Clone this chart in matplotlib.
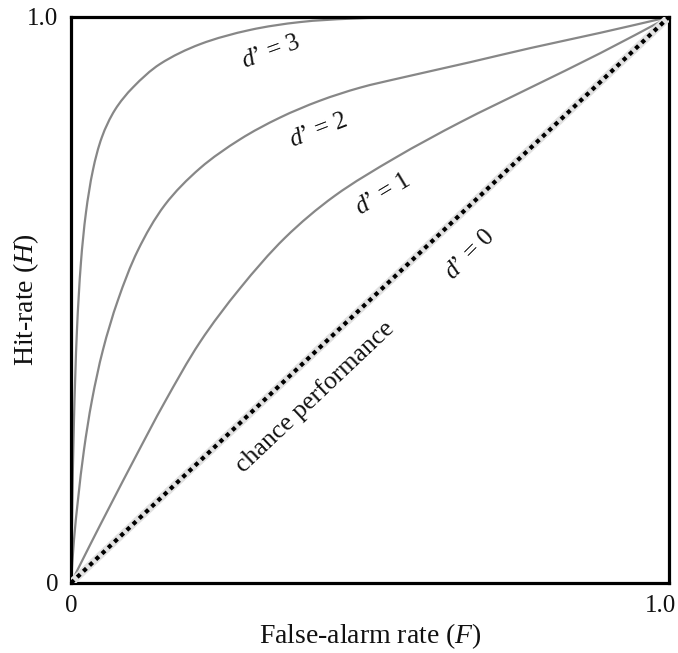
import numpy as np
import matplotlib
matplotlib.use("Agg")
import matplotlib.pyplot as plt
from matplotlib.path import Path
from matplotlib.patches import PathPatch
from matplotlib.transforms import ScaledTranslation

plt.rcParams["font.family"] = ["Liberation Serif", "DejaVu Serif"]
plt.rcParams["mathtext.fontset"] = "custom"
plt.rcParams["mathtext.rm"] = "Liberation Serif"
plt.rcParams["mathtext.it"] = "Liberation Serif:italic"

# ROC curves: false-alarm rate (F) vs hit rate (H)
f_d3 = [0.0, 0.0017, 0.005, 0.010, 0.0167, 0.0251, 0.0368, 0.0518, 0.0736,
        0.104, 0.149, 0.216, 0.299, 0.383, 0.467, 0.584, 1.0]
h_d3 = [0.0, 0.111, 0.288, 0.447, 0.567, 0.655, 0.730, 0.788, 0.836,
        0.876, 0.917, 0.952, 0.977, 0.991, 0.997, 1.0, 1.0]

f_d2 = [0.0, 0.005, 0.0117, 0.0217, 0.0351, 0.0535, 0.0786, 0.112, 0.157,
        0.216, 0.283, 0.349, 0.416, 0.483, 0.550, 0.667, 0.768, 0.885, 1.0]
h_d2 = [0.0, 0.076, 0.147, 0.235, 0.323, 0.412, 0.500, 0.588, 0.668,
        0.733, 0.784, 0.822, 0.852, 0.875, 0.892, 0.920, 0.945, 0.972, 1.0]

f_d1 = [0.0, 0.0318, 0.0652, 0.107, 0.157, 0.216, 0.283, 0.358, 0.441,
        0.542, 0.651, 0.768, 0.885, 1.0]
h_d1 = [0.0, 0.0671, 0.136, 0.221, 0.320, 0.426, 0.521, 0.610, 0.684,
        0.751, 0.814, 0.875, 0.936, 1.0]

curve_labels = ["$d$’ = 1", "$d$’ = 2", "$d$’ = 3", "$d$’ = 0"]
chance_label = "chance performance"
tick_values = [0, 1.0]
tick_labels = ["0", "1.0"]


def smooth_path(xs, ys):
    """Cubic Bezier path through the points, chord-length tangents."""
    p = np.column_stack([xs, ys]).astype(float)
    n = len(p)
    d = np.hypot(*np.diff(p, axis=0).T)
    m = np.zeros_like(p)
    m[0] = (p[1] - p[0]) / d[0]
    m[-1] = (p[-1] - p[-2]) / d[-1]
    for i in range(1, n - 1):
        m[i] = (p[i + 1] - p[i - 1]) / (d[i - 1] + d[i])
    verts = [p[0]]
    codes = [Path.MOVETO]
    for i in range(n - 1):
        c1 = p[i] + m[i] * d[i] / 3.0
        c2 = p[i + 1] - m[i + 1] * d[i] / 3.0
        verts += [c1, c2, p[i + 1]]
        codes += [Path.CURVE4] * 3
    return Path(verts, codes)


fig = plt.figure(figsize=(6.78, 6.53), dpi=100)
ax = fig.add_axes([0.1047, 0.1072, 0.8820, 0.8668])

for xs, ys in [(f_d1, h_d1), (f_d2, h_d2), (f_d3, h_d3)]:
    ax.add_patch(PathPatch(smooth_path(xs, ys), facecolor="none",
                           edgecolor="#878787", lw=1.6, zorder=2))

# chance diagonal (d' = 0)
ax.plot([0, 1], [0, 1], color="#e2e2e2", lw=5.5, zorder=3)
ax.plot([0, 1], [0, 1], color="black", lw=3.0, linestyle=(0, (1, 1.05)),
        dash_capstyle="butt", zorder=4)

label_spots = [(0.522, 0.686, 31), (0.413, 0.799, 21), (0.334, 0.938, 20),
               (0.667, 0.580, 45)]
for lab, (x, y, r) in zip(curve_labels, label_spots):
    ax.text(x, y, lab, fontsize=18, rotation=r, ha="center", va="center",
            rotation_mode="anchor", color="#111111", zorder=5)

ax.text(0.408, 0.329, chance_label, fontsize=18.5, rotation=43.4,
        ha="center", va="center", rotation_mode="anchor", color="#111111", zorder=5)

ax.set_xlim(0, 1)
ax.set_ylim(0, 1)
ax.set_xticks(tick_values)
ax.set_xticklabels(tick_labels)
ax.set_yticks(tick_values)
ax.set_yticklabels(tick_labels)
ax.tick_params(length=0, labelsize=18, colors="#111111")
ax.tick_params(axis="x", pad=9)
ax.tick_params(axis="y", pad=9)

xl = ax.get_xticklabels()
xl[-1].set_ha("right")
xl[-1].set_transform(xl[-1].get_transform() + ScaledTranslation(7 / 100, 0, fig.dpi_scale_trans))

for sp in ax.spines.values():
    sp.set_linewidth(2.3)
    sp.set_color("black")

fig.text(370 / 678, 1 - 636 / 653, "False-alarm rate ($F$)", fontsize=20,
         ha="center", va="center", color="#111111")
fig.text(26 / 678, 1 - 300 / 653, "Hit-rate ($H$)", fontsize=20, rotation=90,
         ha="center", va="center", color="#111111")

fig.savefig("out.png", dpi=100)
